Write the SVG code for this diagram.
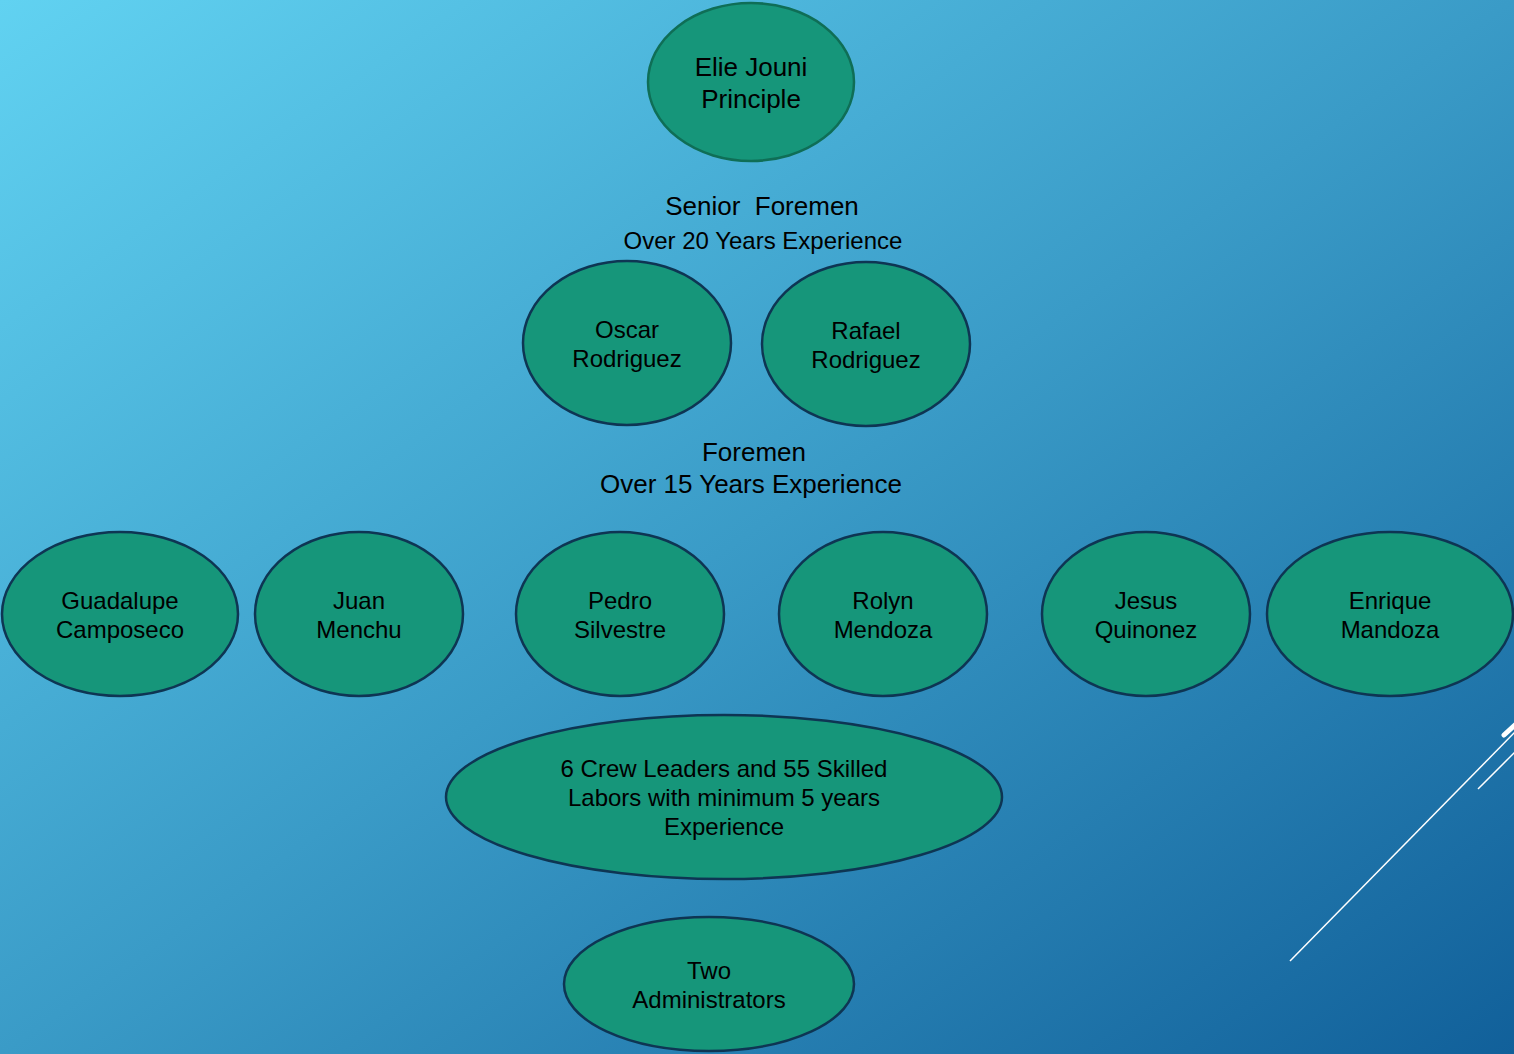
<svg xmlns="http://www.w3.org/2000/svg" width="1514" height="1054" viewBox="0 0 1514 1054">
  <defs>
    <linearGradient id="bg" x1="0" y1="0" x2="1" y2="1">
      <stop offset="0" stop-color="#61d2f1"/>
      <stop offset="0.5" stop-color="#3a9bc7"/>
      <stop offset="1" stop-color="#11609a"/>
    </linearGradient>
    <style>
      .node { fill: #16967a; stroke: #0e3553; stroke-width: 2.5; }
      .top { fill: #16967a; stroke: #0f6e56; stroke-width: 2.5; }
      text { font-family: "Liberation Sans", Arial, sans-serif; fill: #000; text-anchor: middle; }
      .t24 { font-size: 24px; }
      .t26 { font-size: 26px; }
      .deco { stroke: #ffffff; fill: none; }
    </style>
  </defs>
  <rect x="0" y="0" width="1514" height="1054" fill="url(#bg)"/>

  <g id="decoration">
    <line class="deco" x1="1290" y1="961" x2="1516" y2="731" stroke-width="1.5"/>
    <line class="deco" x1="1478" y1="789" x2="1516" y2="751" stroke-width="1.5"/>
    <line class="deco" x1="1504" y1="735" x2="1516" y2="724" stroke-width="5" stroke-linecap="round"/>
  </g>

  <g id="connectors"></g>

  <g id="node-elie">
    <ellipse class="top" cx="751" cy="82" rx="103" ry="79"/>
    <text class="t26" x="751" y="76">Elie Jouni</text>
    <text class="t26" x="751" y="108">Principle</text>
  </g>

  <g id="label-senior">
    <text class="t26" x="762" y="215" xml:space="preserve">Senior  Foremen</text>
    <text class="t24" x="763" y="249">Over 20 Years Experience</text>
  </g>

  <g id="node-oscar">
    <ellipse class="node" cx="627" cy="343" rx="104" ry="82"/>
    <text class="t24" x="627" y="338">Oscar</text>
    <text class="t24" x="627" y="367">Rodriguez</text>
  </g>

  <g id="node-rafael">
    <ellipse class="node" cx="866" cy="344" rx="104" ry="82"/>
    <text class="t24" x="866" y="339">Rafael</text>
    <text class="t24" x="866" y="368">Rodriguez</text>
  </g>

  <g id="label-foremen">
    <text class="t26" x="754" y="461">Foremen</text>
    <text class="t26" x="751" y="493">Over 15 Years Experience</text>
  </g>

  <g id="node-guadalupe">
    <ellipse class="node" cx="120" cy="614" rx="118" ry="82"/>
    <text class="t24" x="120" y="609">Guadalupe</text>
    <text class="t24" x="120" y="638">Camposeco</text>
  </g>

  <g id="node-juan">
    <ellipse class="node" cx="359" cy="614" rx="104" ry="82"/>
    <text class="t24" x="359" y="609">Juan</text>
    <text class="t24" x="359" y="638">Menchu</text>
  </g>

  <g id="node-pedro">
    <ellipse class="node" cx="620" cy="614" rx="104" ry="82"/>
    <text class="t24" x="620" y="609">Pedro</text>
    <text class="t24" x="620" y="638">Silvestre</text>
  </g>

  <g id="node-rolyn">
    <ellipse class="node" cx="883" cy="614" rx="104" ry="82"/>
    <text class="t24" x="883" y="609">Rolyn</text>
    <text class="t24" x="883" y="638">Mendoza</text>
  </g>

  <g id="node-jesus">
    <ellipse class="node" cx="1146" cy="614" rx="104" ry="82"/>
    <text class="t24" x="1146" y="609">Jesus</text>
    <text class="t24" x="1146" y="638">Quinonez</text>
  </g>

  <g id="node-enrique">
    <ellipse class="node" cx="1390" cy="614" rx="123" ry="82"/>
    <text class="t24" x="1390" y="609">Enrique</text>
    <text class="t24" x="1390" y="638">Mandoza</text>
  </g>

  <g id="node-crew">
    <ellipse class="node" cx="724" cy="797" rx="278" ry="82"/>
    <text class="t24" x="724" y="777">6 Crew Leaders and 55 Skilled</text>
    <text class="t24" x="724" y="806">Labors with minimum 5 years</text>
    <text class="t24" x="724" y="835">Experience</text>
  </g>

  <g id="node-admin">
    <ellipse class="node" cx="709" cy="984" rx="145" ry="67"/>
    <text class="t24" x="709" y="979">Two</text>
    <text class="t24" x="709" y="1008">Administrators</text>
  </g>
</svg>
